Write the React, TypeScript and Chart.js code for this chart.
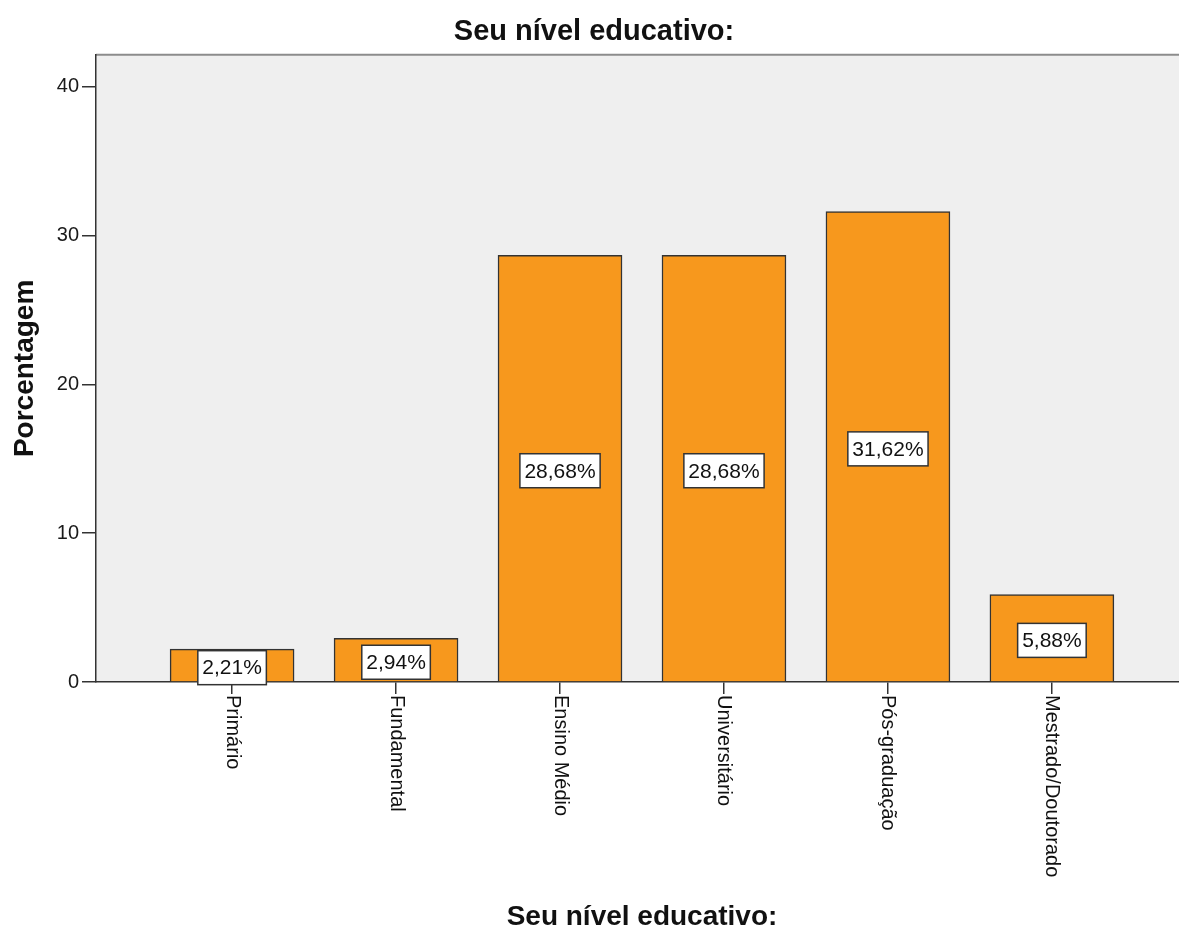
import React, { useEffect, useRef } from 'react';
import { Chart, registerables } from 'chart.js';

Chart.register(...registerables);

const categories = ['Primário', 'Fundamental', 'Ensino Médio', 'Universitário', 'Pós-graduação', 'Mestrado/Doutorado'];
const percentages = [2.21, 2.94, 28.68, 28.68, 31.62, 5.88];
const yTicks = [0, 10, 20, 30, 40];
const chartTitle = 'Seu nível educativo:';
const xAxisTitle = 'Seu nível educativo:';
const yAxisTitle = 'Porcentagem';

const FONT = '"Liberation Sans", Arial, Helvetica, sans-serif';

const plotBackground = {
  id: 'plotBackground',
  beforeDraw(chart: any) {
    const { ctx, chartArea } = chart;
    const { left, top, right, bottom } = chartArea;
    ctx.save();
    ctx.fillStyle = '#EFEFEF';
    ctx.fillRect(left, top, right - left, bottom - top);
    ctx.strokeStyle = '#8c8c8c';
    ctx.lineWidth = 2;
    ctx.beginPath();
    ctx.moveTo(left, top);
    ctx.lineTo(right, top);
    ctx.stroke();
    ctx.restore();
  },
};

const categoryLabels = {
  id: 'categoryLabels',
  afterDraw(chart: any) {
    const { ctx } = chart;
    const xs = chart.scales.x;
    ctx.save();
    ctx.font = `20px ${FONT}`;
    ctx.fillStyle = '#111';
    ctx.textAlign = 'left';
    ctx.textBaseline = 'middle';
    categories.forEach((c, i) => {
      const px = xs.getPixelForValue(i);
      ctx.save();
      ctx.translate(px, xs.top + 13);
      ctx.rotate(Math.PI / 2);
      ctx.fillText(c, 0, 0);
      ctx.restore();
    });
    ctx.restore();
  },
};

const valueLabels = {
  id: 'valueLabels',
  afterDatasetsDraw(chart: any) {
    const { ctx } = chart;
    const meta = chart.getDatasetMeta(0);
    ctx.save();
    ctx.font = `21px ${FONT}`;
    ctx.textAlign = 'center';
    ctx.textBaseline = 'middle';
    meta.data.forEach((bar: any, i: number) => {
      const { x, y, base } = bar.getProps(['x', 'y', 'base'], true);
      const cy = (y + base) / 2 + 2.5;
      const text = percentages[i].toFixed(2).replace('.', ',') + '%';
      const tw = ctx.measureText(text).width;
      const w = tw + 9;
      const h = 34;
      ctx.fillStyle = '#ffffff';
      ctx.fillRect(x - w / 2, cy - h / 2, w, h);
      ctx.strokeStyle = '#333';
      ctx.lineWidth = 1.5;
      ctx.strokeRect(x - w / 2, cy - h / 2, w, h);
      ctx.fillStyle = '#111';
      ctx.fillText(text, x, cy + 1);
    });
    ctx.restore();
  },
};

export default function App() {
  const canvasRef = useRef<HTMLCanvasElement | null>(null);

  useEffect(() => {
    const canvas = canvasRef.current;
    if (!canvas) return;
    const chart = new Chart(canvas, {
      type: 'bar',
      data: {
        datasets: [
          {
            data: categories.map((c, i) => ({ x: i, y: percentages[i] })),
            backgroundColor: '#F7981D',
            borderColor: '#333333',
            borderWidth: 1.5,
            barThickness: 124,
          } as any,
        ],
      },
      options: {
        responsive: false,
        animation: false,
        layout: { padding: { left: 0, right: 12, top: 0, bottom: 0 } },
        plugins: {
          legend: { display: false },
          tooltip: { enabled: false },
          title: {
            display: true,
            text: chartTitle,
            color: '#111',
            font: { family: FONT, size: 29, weight: 'bold' },
            padding: { top: 15, bottom: 5 },
          },
        },
        scales: {
          x: {
            type: 'linear',
            min: -0.83,
            max: 5.83,
            offset: false,
            ticks: { display: false, stepSize: 1, includeBounds: false },
            grid: { drawOnChartArea: false, drawTicks: true, tickLength: 12, color: '#333', lineWidth: 1.5, offset: false },
            border: { display: true, color: '#333', width: 1.5 },
            title: {
              display: true,
              text: xAxisTitle,
              color: '#111',
              font: { family: FONT, size: 28, weight: 'bold', lineHeight: 1 },
              padding: { top: 0, bottom: 0 },
            },
            afterFit: (s: any) => {
              s.height = 249;
            },
          },
          y: {
            type: 'linear',
            min: 0,
            max: 42.15,
            ticks: {
              stepSize: 10,
              includeBounds: false,
              color: '#1a1a1a',
              font: { family: FONT, size: 20 },
              padding: 3,
            },
            afterBuildTicks: (s: any) => {
              s.ticks = yTicks.map((v) => ({ value: v }));
            },
            grid: { drawOnChartArea: false, tickLength: 14, color: '#333', lineWidth: 1.5 },
            border: { display: true, color: '#333', width: 1.5 },
            title: {
              display: true,
              text: yAxisTitle,
              color: '#111',
              font: { family: FONT, size: 28, weight: 'bold' },
              padding: { top: 8, bottom: 0 },
            },
            afterFit: (s: any) => {
              s.width = 96;
            },
          },
        },
      } as any,
      plugins: [plotBackground, valueLabels, categoryLabels],
    });
    return () => chart.destroy();
  }, []);

  return (
    <div style={{ position: 'fixed', left: 0, top: 0, width: 1179, height: 931, overflow: 'hidden', background: '#fff' }}>
      <canvas ref={canvasRef} width={1200} height={931} style={{ width: 1200, height: 931, display: 'block' }} />
    </div>
  );
}
